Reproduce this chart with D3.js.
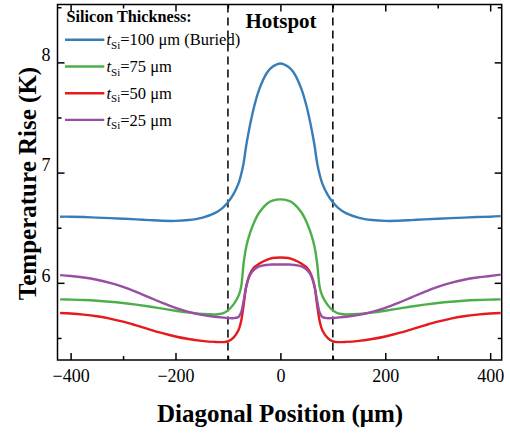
<!DOCTYPE html>
<html>
<head>
<meta charset="utf-8">
<script src="https://cdn.jsdelivr.net/npm/d3@7/dist/d3.min.js"></script>
<style>
  body { margin: 0; background: #fff; }
  svg text { font-family: "Liberation Serif", "Times New Roman", serif; }
</style>
</head>
<body>
<div id="chart"></div>
<script>
// diagonal position (um)
var positions = [-420, -400, -375, -350, -325, -300, -275, -250, -225, -200, -175, -150, -125, -110, -100, -90, -80, -75, -70, -65, -58, -50, -40, -25, -15, 0,
                 15, 25, 40, 50, 58, 65, 70, 75, 80, 90, 100, 110, 125, 150, 175, 200, 225, 250, 275, 300, 325, 350, 375, 400, 420];

// temperature rise (K) for each silicon thickness
var rise100 = [6.60, 6.60, 6.597, 6.592, 6.587, 6.582, 6.576, 6.569, 6.563, 6.562, 6.57, 6.59, 6.632, 6.68, 6.73, 6.80, 6.90, 6.98, 7.09, 7.25, 7.43, 7.60, 7.76, 7.91, 7.96, 7.99,
               7.96, 7.91, 7.76, 7.60, 7.43, 7.25, 7.09, 6.98, 6.90, 6.80, 6.73, 6.68, 6.632, 6.59, 6.57, 6.562, 6.563, 6.569, 6.576, 6.582, 6.587, 6.592, 6.597, 6.60, 6.605];
var rise75 = [5.85, 5.848, 5.844, 5.838, 5.829, 5.817, 5.802, 5.785, 5.766, 5.747, 5.73, 5.718, 5.713, 5.722, 5.75, 5.80, 5.88, 5.96, 6.18, 6.33, 6.45, 6.55, 6.64, 6.72, 6.745, 6.757,
              6.745, 6.72, 6.64, 6.55, 6.45, 6.33, 6.18, 5.96, 5.88, 5.80, 5.75, 5.722, 5.713, 5.718, 5.73, 5.747, 5.766, 5.785, 5.802, 5.817, 5.829, 5.838, 5.844, 5.848, 5.85];
var rise50 = [5.726, 5.722, 5.712, 5.697, 5.676, 5.648, 5.614, 5.578, 5.543, 5.513, 5.49, 5.474, 5.464, 5.462, 5.468, 5.50, 5.57, 5.65, 5.80, 5.97, 6.08, 6.14, 6.175, 6.21, 6.225, 6.23,
              6.225, 6.21, 6.175, 6.14, 6.08, 5.97, 5.80, 5.65, 5.57, 5.50, 5.468, 5.462, 5.464, 5.474, 5.49, 5.513, 5.543, 5.578, 5.614, 5.648, 5.676, 5.697, 5.712, 5.722, 5.726];
var rise25 = [6.07, 6.062, 6.048, 6.028, 6.00, 5.963, 5.918, 5.868, 5.818, 5.773, 5.737, 5.71, 5.692, 5.685, 5.681, 5.679, 5.69, 5.73, 5.84, 5.97, 6.07, 6.12, 6.15, 6.163, 6.166, 6.167,
              6.166, 6.163, 6.15, 6.12, 6.07, 5.97, 5.84, 5.73, 5.69, 5.679, 5.681, 5.685, 5.692, 5.71, 5.737, 5.773, 5.818, 5.868, 5.918, 5.963, 6.00, 6.028, 6.048, 6.062, 6.075];

var seriesNames = ["100", "75", "50", "25"];
var seriesSuffix = ["\u00a0\u03bcm (Buried)", "\u00a0\u03bcm", "\u00a0\u03bcm", "\u00a0\u03bcm"];
var seriesColors = ["#377eb8", "#4daf4a", "#e41a1c", "#984ea3"];
var seriesValues = [rise100, rise75, rise50, rise25];

var xMajor = [-400, -200, 0, 200, 400];
var xMinor = [-300, -100, 100, 300];
var yMajor = [6, 7, 8];
var yMinor = [5.5, 6.5, 7.5, 8.5];
var hotspotEdges = [-100, 100];

var width = 510, height = 433;
var mLeft = 57.5, mRight = 501.7, mTop = 4.5, mBottom = 360;

var x = d3.scaleLinear().domain([-425, 422]).range([mLeft, mRight]);
var y = d3.scaleLinear().domain([5.3, 8.525]).range([mBottom, mTop]);

var svg = d3.select("#chart").append("svg")
    .attr("width", width)
    .attr("height", height);

// dashed hotspot boundaries
svg.selectAll("line.edge")
    .data(hotspotEdges)
    .enter().append("line")
    .attr("class", "edge")
    .attr("x1", function (d) { return x(d); })
    .attr("x2", function (d) { return x(d); })
    .attr("y1", mTop)
    .attr("y2", mBottom)
    .attr("stroke", "#000")
    .attr("stroke-width", 1.5)
    .attr("stroke-dasharray", "8,5");

var line = d3.line()
    .x(function (d) { return x(d[0]); })
    .y(function (d) { return y(d[1]); })
    .curve(d3.curveCatmullRom.alpha(0.5));

seriesValues.forEach(function (vals, i) {
    svg.append("path")
        .datum(positions.map(function (p, j) { return [p, vals[j]]; }))
        .attr("fill", "none")
        .attr("stroke", seriesColors[i])
        .attr("stroke-width", 2.4)
        .attr("d", line);
});

// axes, ticks inward on all four sides
function tickAxis(axisFn, scale, vals, size, pos, label) {
    var g = svg.append("g")
        .attr("transform", pos)
        .call(axisFn(scale).tickValues(vals).tickSizeInner(-size).tickSizeOuter(0)
            .tickFormat(label ? function (d) { return d < 0 ? "\u2212" + Math.abs(d) : d; } : ""));
    g.attr("font-family", null).attr("font-size", null);
    g.select(".domain").remove();
    g.selectAll(".tick line").attr("stroke", "#000").attr("stroke-width", 1.5);
    g.selectAll(".tick text").attr("font-size", 18).attr("fill", "#000");
    return g;
}

var gx = tickAxis(d3.axisBottom, x, xMajor, 7, "translate(0," + mBottom + ")", true);
gx.selectAll(".tick text").attr("y", 22).attr("dy", 0);
tickAxis(d3.axisBottom, x, xMinor, 4, "translate(0," + mBottom + ")", false);
tickAxis(d3.axisTop, x, xMajor, 7, "translate(0," + mTop + ")", false);
tickAxis(d3.axisTop, x, xMinor, 4, "translate(0," + mTop + ")", false);

var gy = tickAxis(d3.axisLeft, y, yMajor, 7, "translate(" + mLeft + ",0)", true);
gy.selectAll(".tick text").attr("x", -7).attr("dy", "-0.1em");
tickAxis(d3.axisLeft, y, yMinor, 4, "translate(" + mLeft + ",0)", false);
tickAxis(d3.axisRight, y, yMajor, 7, "translate(" + mRight + ",0)", false);
tickAxis(d3.axisRight, y, yMinor, 4, "translate(" + mRight + ",0)", false);

svg.append("rect")
    .attr("x", mLeft)
    .attr("y", mTop)
    .attr("width", mRight - mLeft)
    .attr("height", mBottom - mTop)
    .attr("fill", "none")
    .attr("stroke", "#000")
    .attr("stroke-width", 1.5);

// titles
svg.append("text")
    .attr("x", 280)
    .attr("y", 421.5)
    .attr("text-anchor", "middle")
    .attr("font-size", 25)
    .attr("font-weight", "bold")
    .text("Diagonal Position (\u03bcm)");

svg.append("text")
    .attr("transform", "translate(35.5,183.5)rotate(-90)")
    .attr("text-anchor", "middle")
    .attr("font-size", 25)
    .attr("font-weight", "bold")
    .text("Temperature Rise (K)");

svg.append("text")
    .attr("x", 281)
    .attr("y", 28.3)
    .attr("text-anchor", "middle")
    .attr("font-size", 21)
    .attr("font-weight", "bold")
    .text("Hotspot");

// legend
svg.append("text")
    .attr("x", 66.5)
    .attr("y", 22.3)
    .attr("font-size", 16.2)
    .attr("font-weight", "bold")
    .text("Silicon Thickness:");

var leg = svg.selectAll("g.leg")
    .data(seriesNames)
    .enter().append("g")
    .attr("class", "leg")
    .attr("transform", function (d, i) { return "translate(0," + (39.8 + i * 26.7) + ")"; });

leg.append("line")
    .attr("x1", 65)
    .attr("x2", 104.3)
    .attr("stroke", function (d, i) { return seriesColors[i]; })
    .attr("stroke-width", 2.4);

var lt = leg.append("text")
    .attr("x", 106.5)
    .attr("y", 5.6)
    .attr("font-size", 16.5);
lt.append("tspan").attr("font-style", "italic").text("t");
lt.append("tspan").attr("font-size", 11).attr("dy", 3.5).text("Si");
lt.append("tspan").attr("dy", -3.5).text(function (d, i) { return "=" + d + seriesSuffix[i]; });
</script>
</body>
</html>
